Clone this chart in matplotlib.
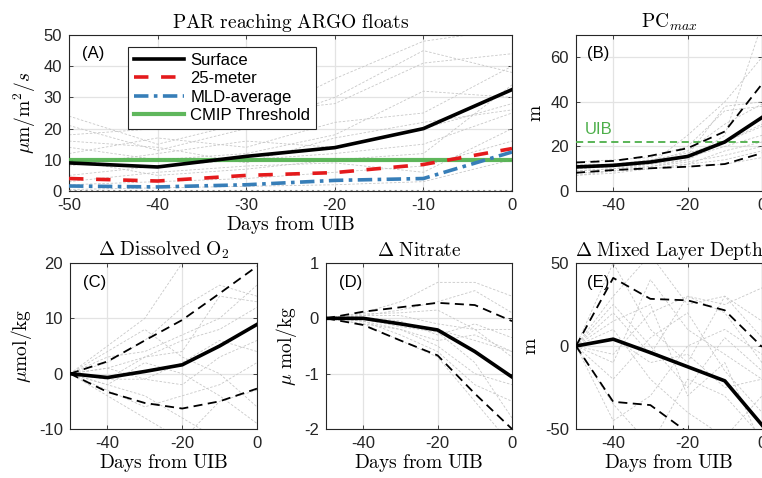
import matplotlib
matplotlib.use("Agg")
import matplotlib.pyplot as plt
import numpy as np

plt.rcParams["font.family"] = ["Liberation Sans", "DejaVu Sans"]
plt.rcParams["mathtext.fontset"] = "cm"
plt.rcParams["axes.unicode_minus"] = False

days = [-50, -40, -30, -20, -10, 0]

# (A) PAR reaching the floats
par_surface = [9.0, 7.7, 11.1, 13.9, 20.0, 32.5]
par_25m = [4.0, 3.2, 5.0, 5.9, 8.5, 13.6]
par_mld = [1.6, 1.3, 2.0, 3.4, 4.0, 12.5]
cmip_threshold = 10
par_floats = [
    [24, 15, 22, 36, 48, 52],
    [21, 13, 20, 30, 45, 38],
    [18, 20, 25, 28, 41, 44],
    [14, 10, 12, 18, 32, 30],
    [12, 17, 14, 22, 25, 40],
    [8, 12, 16, 14, 20, 28],
    [5, 8, 10, 12, 15, 25],
    [3, 6, 8, 9, 6, 20],
    [10, 5, 7, 10, 12, 34],
    [16, 14, 9, 17, 22, 26],
    [2, 3, 4, 6, 8, 16],
    [0.5, 1, 1.5, 2, 3, 10],
]

# (B) depth of maximum phytoplankton carbon
pc_mean = [10.8, 11.5, 13.0, 15.5, 22.0, 33.0]
pc_hi = [12.8, 13.5, 15.8, 19.2, 26.7, 48.0]
pc_lo = [8.2, 9.4, 10.2, 10.9, 12.1, 17.0]
uib_depth = 22
pc_floats = [
    [8, 9, 11, 14, 25, 75],
    [9, 10, 12, 16, 38, 40],
    [10, 11, 13, 18, 30, 39],
    [11, 12, 14, 17, 22, 30],
    [12, 12, 13, 15, 20, 25],
    [7, 8, 10, 12, 18, 22],
    [9, 10, 11, 13, 16, 20],
    [13, 14, 15, 20, 36, 38],
    [10, 11, 12, 14, 22, 29],
    [8, 9, 10, 12, 14, 18],
    [11, 11, 12, 25, 40, 60],
    [7, 9, 10, 11, 12, 15],
]

# (C) change in dissolved oxygen
o2_mean = [0, -0.7, 0.4, 1.6, 5.0, 8.9]
o2_hi = [0, 2.2, 6.0, 9.7, 14.5, 19.4]
o2_lo = [0, -3.3, -5.3, -6.3, -5.0, -2.7]
o2_floats = [
    [0, 2, 6, 12, 16, 14],
    [0, -2, -4, -8, -12, -15],
    [0, 5, 10, 20, 25, 22],
    [0, 1, 3, 4, 14, 13],
    [0, -3, -6, -4, -2, 2],
    [0, -1, -1, 2, 6, 4],
    [0, 3, 4, 7, 10, 16],
    [0, -4, -8, -12, -5, -3],
    [0, 1, -1, -2, 3, 6],
    [0, -2, 2, 0, -4, -9],
    [0, 4, 8, 3, 0, -6],
    [0, -1, 3, 6, 8, 12],
]

# (D) change in nitrate
no3_mean = [0, 0.0, -0.1, -0.21, -0.6, -1.06]
no3_hi = [0, 0.12, 0.2, 0.28, 0.24, -0.05]
no3_lo = [0, -0.12, -0.4, -0.67, -1.36, -2.0]
no3_floats = [
    [0, 0.1, 0.3, 0.65, 0.65, 0.4],
    [0, 0.05, 0.15, 0.3, 0.5, 0.1],
    [0, -0.05, -0.2, -0.4, -0.3, -0.6],
    [0, -0.1, -0.4, -0.7, -1.5, -2.3],
    [0, 0, -0.1, -0.2, -0.4, -0.6],
    [0, -0.05, -0.3, -0.6, -1.2, -1.5],
    [0, 0.05, 0.05, -0.1, -0.2, -0.2],
    [0, -0.02, -0.15, -0.25, -0.8, -1.8],
    [0, 0.08, 0.1, 0.15, -0.2, -0.7],
    [0, -0.1, -0.2, -0.5, -1.0, -1.2],
    [0, 0.02, -0.05, -0.3, -0.1, -0.35],
]

# (E) change in mixed layer depth
mld_mean = [0, 4.1, -4.0, -12.5, -21.0, -47.6]
mld_hi = [0, 41.0, 28.4, 27.5, 21.5, -0.5]
mld_lo = [0, -33.6, -35.6, -52.0, -60.0, -60.0]
mld_floats = [
    [0, 30, 55, 25, 30, 5],
    [0, -35, -60, -20, -30, -55],
    [0, 20, -5, 30, 20, -10],
    [0, -10, 40, 10, -5, -20],
    [0, 10, -20, -40, -55, -30],
    [0, 50, 10, -10, 30, 15],
    [0, -20, 5, 20, -15, -40],
    [0, 5, -10, -5, -25, -20],
    [0, -45, -30, 0, 10, -5],
    [0, 15, 25, -30, -10, -60],
    [0, -5, 20, 30, 25, 35],
    [0, 25, 0, -25, 5, -15],
]

RED = "#e41a1c"
BLUE = "#377eb8"
GREEN = "#4daf4a"
FLOAT_GRAY = "#c8c8c8"
AX_COL = "#262626"

W, H = 762, 478
fig = plt.figure(figsize=(W / 100, H / 100), dpi=100)


def box(l, r, t, b):
    return [l / W, 1 - b / H, (r - l) / W, (b - t) / H]


def style(ax, xticks, yticks, ylim, title, ylabel, xlabel=True):
    ax.set_xlim(-50, 0)
    ax.set_ylim(*ylim)
    ax.set_xticks(xticks)
    ax.set_yticks(yticks)
    ax.grid(True, color="#e3e3e3", lw=0.9)
    ax.set_axisbelow(True)
    for s in ax.spines.values():
        s.set_color(AX_COL)
        s.set_linewidth(0.8)
    ax.tick_params(direction="in", length=3, width=0.6, colors=AX_COL,
                   labelsize=12, top=True, right=True, pad=5)
    ax.set_title(title, fontsize=14, pad=5)
    ax.set_ylabel(ylabel, fontsize=14, labelpad=4)
    if xlabel:
        ax.set_xlabel(r"$\mathrm{Days\ from\ UIB}$", fontsize=14, labelpad=1)


def floats(ax, rows):
    for r in rows:
        ax.plot(days, r, ls=(0, (3, 2)), lw=0.6, color=FLOAT_GRAY, zorder=2)


def panel_tag(ax, text, x, y):
    ax.text(x, y, text, transform=ax.transAxes, fontsize=12, color="black",
            ha="left", va="top", zorder=6)


# ---- (A)
axA = fig.add_axes(box(69, 512, 35, 191))
floats(axA, par_floats)
axA.axhline(0, color="#8c8c8c", ls=":", lw=1.5, zorder=3)
axA.plot(days, par_surface, color="black", lw=2.6, label="Surface", zorder=5)
axA.plot(days, par_25m, color=RED, lw=2.6, ls=(0, (4, 3.5)), label="25-meter", zorder=5)
axA.plot(days, par_mld, color=BLUE, lw=2.6, ls=(0, (4, 1.5, 1, 1.5)), label="MLD-average", zorder=5)
axA.axhline(cmip_threshold, color=GREEN, lw=3, alpha=0.9, label="CMIP Threshold", zorder=4)
style(axA, [-50, -40, -30, -20, -10, 0], [0, 10, 20, 30, 40, 50], (0, 50),
      r"$\mathrm{PAR\ reaching\ ARGO\ floats}$", r"$\mu\mathrm{m/m^2}/s$")
panel_tag(axA, "(A)", 0.03, 0.93)
leg = axA.legend(loc="upper left", bbox_to_anchor=(0.133, 0.923), borderaxespad=0,
                 fontsize=12, handlelength=3.0, handletextpad=0.4, labelspacing=0.2,
                 borderpad=0.35, fancybox=False, framealpha=1, edgecolor=AX_COL)
leg.get_frame().set_linewidth(0.8)

# ---- (B)
axB = fig.add_axes(box(576, 762, 35, 191))
floats(axB, pc_floats)
axB.axhline(uib_depth, color=GREEN, ls=(0, (4, 2.5)), lw=1.3, zorder=4)
axB.plot(days, pc_hi, color="black", lw=1.3, ls=(0, (5, 3)), zorder=5)
axB.plot(days, pc_lo, color="black", lw=1.3, ls=(0, (5, 3)), zorder=5)
axB.plot(days, pc_mean, color="black", lw=2.6, zorder=5)
axB.text(-47.6, 27.4, "UIB", color=GREEN, fontsize=12, ha="left", va="center")
style(axB, [-40, -20, 0], [0, 20, 40, 60], (0, 70), r"$\mathrm{PC}_{max}$",
      r"$\mathrm{m}$", xlabel=False)
panel_tag(axB, "(B)", 0.06, 0.93)

# ---- (C), (D), (E)
lower = [
    (box(70, 257, 263, 429), o2_floats, o2_mean, o2_hi, o2_lo, [-10, 0, 10, 20], (-10, 20),
     r"$\Delta\ \mathrm{Dissolved\ O_2}$", r"$\mu\mathrm{mol/kg}$", "(C)", 0.07),
    (box(326, 512, 263, 429), no3_floats, no3_mean, no3_hi, no3_lo, [-2, -1, 0, 1], (-2, 1),
     r"$\Delta\ \mathrm{Nitrate}$", r"$\mu\ \mathrm{mol/kg}$", "(D)", 0.07),
    (box(576, 762, 263, 429), mld_floats, mld_mean, mld_hi, mld_lo, [-50, 0, 50], (-50, 50),
     r"$\Delta\ \mathrm{Mixed\ Layer\ Depth}$", r"$\mathrm{m}$", "(E)", 0.06),
]
for rect, fl, mean, hi, lo, yt, yl, title, ylab, tag, tx in lower:
    ax = fig.add_axes(rect)
    floats(ax, fl)
    ax.plot(days, hi, color="black", lw=1.3, ls=(0, (5, 3)), zorder=5)
    ax.plot(days, lo, color="black", lw=1.3, ls=(0, (5, 3)), zorder=5)
    ax.plot(days, mean, color="black", lw=2.6, zorder=5)
    style(ax, [-40, -20, 0], yt, yl, title, ylab)
    panel_tag(ax, tag, tx, 0.93)

fig.savefig("out.png", dpi=100)
